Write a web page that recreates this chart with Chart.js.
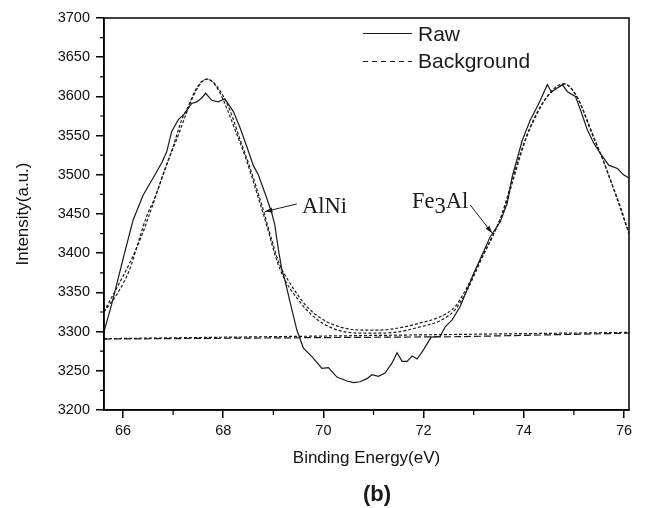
<!DOCTYPE html>
<html>
<head>
<meta charset="utf-8">
<script src="https://cdn.jsdelivr.net/npm/chart.js@4"></script>
<style>
  html, body { margin: 0; padding: 0; background: #fff; }
</style>
</head>
<body>
<canvas id="xps" width="647" height="508"></canvas>
<script>
// axis ticks
const xTicks = [66, 68, 70, 72, 74, 76];
const xMinor = [67, 69, 71, 73, 75];
const yTicks = [3200, 3250, 3300, 3350, 3400, 3450, 3500, 3550, 3600, 3650, 3700];
const yMinor = [3225, 3275, 3325, 3375, 3425, 3475, 3525, 3575, 3625, 3675];

// raw spectrum
const rawX = [65.62, 65.77, 66.03, 66.2, 66.4, 66.6, 66.77, 66.87, 66.97, 67.1, 67.23, 67.37, 67.47, 67.57, 67.65,
  67.77, 67.9, 68.03, 68.2, 68.33, 68.47, 68.6, 68.7, 68.87, 68.97, 69.03, 69.1, 69.17, 69.23, 69.37, 69.47, 69.6,
  69.77, 69.97, 70.1, 70.27, 70.47, 70.6, 70.73, 70.87, 70.97, 71.1, 71.23, 71.37, 71.47, 71.57, 71.67, 71.77, 71.87,
  72.0, 72.15, 72.33, 72.43, 72.57, 72.73, 73.0, 73.33, 73.53, 73.67, 73.77, 73.97, 74.13, 74.3, 74.47, 74.55, 74.7,
  74.77, 74.87, 75.03, 75.13, 75.27, 75.4, 75.53, 75.7, 75.87, 75.99, 76.1];
const rawY = [3300, 3334, 3400, 3442, 3474, 3496, 3515, 3529, 3555, 3570, 3578, 3591, 3593, 3598, 3604,
  3595, 3593, 3597, 3581, 3561, 3536, 3512, 3500, 3470, 3451, 3436, 3405, 3379, 3366, 3328, 3302, 3279,
  3268, 3253, 3254, 3242, 3237, 3235, 3236, 3240, 3245, 3243, 3247, 3260, 3273, 3262, 3262, 3269, 3265,
  3277, 3293, 3294, 3306, 3315, 3332, 3374, 3421, 3440, 3464, 3498, 3544, 3570, 3591, 3615, 3606, 3612,
  3615, 3606, 3600, 3583, 3557, 3540, 3527, 3512, 3508, 3500, 3496];

// fitted envelopes
const fitX = [65.62, 65.93, 66.13, 66.3, 66.47, 66.63, 66.83, 67.0, 67.17, 67.3, 67.43, 67.57, 67.68, 67.8, 67.93,
  68.13, 68.33, 68.53, 68.8, 69.0, 69.13, 69.33, 69.53, 69.73, 70.0, 70.33, 70.73, 71.13, 71.53, 71.93, 72.33,
  72.63, 72.87, 73.13, 73.4, 73.57, 73.73, 73.93, 74.13, 74.33, 74.53, 74.7, 74.8, 75.0, 75.13, 75.33, 75.53,
  75.73, 75.93, 76.1];
const fitY = [3325, 3353, 3379, 3413, 3447, 3470, 3506, 3536, 3570, 3587, 3606, 3619, 3622, 3618, 3608,
  3583, 3546, 3510, 3455, 3410, 3385, 3362, 3343, 3328, 3315, 3306, 3302, 3302, 3305, 3311, 3319,
  3332, 3357, 3391, 3425, 3451, 3485, 3527, 3561, 3587, 3604, 3612, 3616, 3606, 3591, 3557, 3527,
  3493, 3459, 3425];
const fit2X = [65.62, 66.3, 67.0, 67.68, 68.33, 68.8, 69.13, 69.53, 70.0, 70.73, 71.13, 71.53, 71.93, 72.33,
  72.63, 72.87, 73.13, 73.57, 74.13, 74.8, 75.53, 76.1];
const fit2Y = [3325, 3411, 3534, 3622, 3542, 3450, 3380, 3338, 3310, 3298, 3298, 3300, 3306, 3314,
  3328, 3353, 3389, 3450, 3560, 3616, 3527, 3425];

// baselines
const base1X = [65.62, 76.1];
const base1Y = [3291, 3299];
const base2X = [65.62, 72.7, 76.1];
const base2Y = [3290.5, 3293.5, 3298];

const zip = (xs, ys) => xs.map((x, i) => ({x: x, y: ys[i]}));
const SANS = '"Liberation Sans", Arial, sans-serif';
const SERIF = '"Liberation Serif", "Times New Roman", serif';
const INK = '#1a1a1a';

const extras = {
  id: 'extras',
  afterDraw(chart) {
    const {ctx, chartArea: a, scales: {x, y}} = chart;
    ctx.save();
    // frame
    ctx.strokeStyle = '#000';
    ctx.lineWidth = 1.5;
    ctx.strokeRect(a.left, a.top, a.right - a.left, a.bottom - a.top);
    // minor ticks
    ctx.lineWidth = 1.2;
    ctx.beginPath();
    xMinor.forEach(v => {
      const px = x.getPixelForValue(v);
      ctx.moveTo(px, a.bottom); ctx.lineTo(px, a.bottom + 5);
    });
    yMinor.forEach(v => {
      const py = y.getPixelForValue(v);
      ctx.moveTo(a.left, py); ctx.lineTo(a.left - 4, py);
    });
    ctx.stroke();

    // legend
    ctx.strokeStyle = INK;
    ctx.lineWidth = 1.2;
    ctx.beginPath(); ctx.moveTo(363, 33.5); ctx.lineTo(412, 33.5); ctx.stroke();
    ctx.setLineDash([5, 4]);
    ctx.beginPath(); ctx.moveTo(363, 61.5); ctx.lineTo(412, 61.5); ctx.stroke();
    ctx.setLineDash([]);
    ctx.fillStyle = INK;
    ctx.font = '21px ' + SANS;
    ctx.textBaseline = 'middle';
    ctx.textAlign = 'left';
    ctx.fillText('Raw', 418, 35);
    ctx.fillText('Background', 418, 62);

    // peak labels with arrows
    const arrow = (x0, y0, x1, y1) => {
      const p0 = [x.getPixelForValue(x0), y.getPixelForValue(y0)];
      const p1 = [x.getPixelForValue(x1), y.getPixelForValue(y1)];
      ctx.beginPath(); ctx.moveTo(p0[0], p0[1]); ctx.lineTo(p1[0], p1[1]); ctx.stroke();
      const ang = Math.atan2(p1[1] - p0[1], p1[0] - p0[0]);
      ctx.beginPath();
      ctx.moveTo(p1[0], p1[1]);
      ctx.lineTo(p1[0] - 8 * Math.cos(ang - 0.3), p1[1] - 8 * Math.sin(ang - 0.3));
      ctx.lineTo(p1[0] - 8 * Math.cos(ang + 0.3), p1[1] - 8 * Math.sin(ang + 0.3));
      ctx.closePath(); ctx.fill();
    };
    ctx.lineWidth = 1;
    arrow(69.47, 3462.8, 68.83, 3453);
    arrow(72.93, 3461.5, 73.37, 3425.4);

    ctx.font = '22.5px ' + SERIF;
    ctx.textBaseline = 'alphabetic';
    ctx.fillText('AlNi', x.getPixelForValue(69.57), y.getPixelForValue(3451));
    let fx = x.getPixelForValue(71.77);
    const fy = y.getPixelForValue(3457.3);
    ctx.fillText('Fe', fx, fy);
    fx += ctx.measureText('Fe').width;
    ctx.fillText('3', fx, fy + 5);
    fx += ctx.measureText('3').width;
    ctx.fillText('Al', fx, fy);

    // panel tag
    ctx.font = 'bold 22px ' + SANS;
    ctx.textAlign = 'center';
    ctx.textBaseline = 'middle';
    ctx.fillText('(b)', 377, 495);
    ctx.restore();
  }
};

const line = (data, dash, smooth) => ({
  data: data,
  borderColor: INK,
  borderWidth: 1.2,
  borderDash: dash,
  pointRadius: 0,
  fill: false,
  cubicInterpolationMode: smooth ? 'monotone' : 'default',
  tension: 0
});

new Chart(document.getElementById('xps'), {
  type: 'line',
  data: {
    datasets: [
      line(zip(rawX, rawY), [], false),
      line(zip(fitX, fitY), [3, 2], true),
      line(zip(fit2X, fit2Y), [3, 2], true),
      line(zip(base1X, base1Y), [3, 2], false),
      line(zip(base2X, base2Y), [7, 3], false)
    ]
  },
  options: {
    responsive: false,
    animation: false,
    layout: {padding: {top: 18, right: 18, left: 0, bottom: 0}},
    plugins: {legend: {display: false}, tooltip: {enabled: false}},
    scales: {
      x: {
        type: 'linear',
        min: 65.62,
        max: 76.1,
        afterBuildTicks: s => { s.ticks = xTicks.map(v => ({value: v})); },
        afterFit: s => { s.height = 98; },
        ticks: {font: {family: SANS, size: 14.5}, color: '#111', padding: 4, callback: v => String(v)},
        grid: {drawOnChartArea: false, drawTicks: true, tickLength: 8, color: '#000', lineWidth: 1.5},
        border: {display: true, color: '#000', width: 1.5},
        title: {display: true, text: 'Binding Energy(eV)', color: '#111',
          font: {family: SANS, size: 17}, padding: {top: 0, bottom: 39}}
      },
      y: {
        min: 3200,
        max: 3700,
        afterBuildTicks: s => { s.ticks = yTicks.map(v => ({value: v})); },
        afterFit: s => { s.width = 104; },
        ticks: {font: {family: SANS, size: 14.5}, color: '#111', padding: 6, callback: v => String(v)},
        grid: {drawOnChartArea: false, drawTicks: true, tickLength: 8, color: '#000', lineWidth: 1.5},
        border: {display: true, color: '#000', width: 1.5},
        title: {display: true, text: 'Intensity(a.u.)', color: '#111',
          font: {family: SANS, size: 17}, padding: {top: 13, bottom: 0}}
      }
    }
  },
  plugins: [extras]
});
</script>
</body>
</html>
